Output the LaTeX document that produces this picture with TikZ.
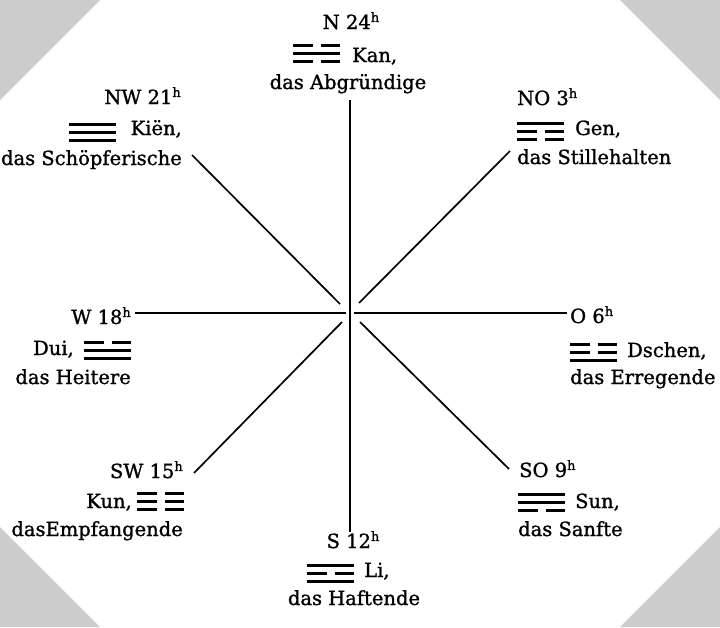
\documentclass[tikz,border=0pt]{standalone}
\usepackage{fontspec}
\setmainfont{DejaVu Serif}
\newfontfamily\lblfont[FakeBold=1.2]{DejaVu Serif}
\newcommand\mytrigline[2]{\ifnum#1=1 \draw[tline] (0,#2)--(47,#2);\else\draw[tline] (0,#2)--(19.5,#2) (27.5,#2)--(47,#2);\fi}
\newcommand\hr[1]{#1\raisebox{0.36em}{\fontsize{13}{14}\selectfont h}}
\tikzset{
  lbl/.style={inner sep=0pt, font=\lblfont\fontsize{19.5}{21}\selectfont},
  ray/.style={line width=1.7pt},
  tline/.style={line width=3pt},
  corner/.style={fill=black!20, draw=none},
  pics/trigram/.style n args={3}{code={\mytrigline{#1}{-8}\mytrigline{#2}{0}\mytrigline{#3}{8}}}
}
\begin{document}
\begin{tikzpicture}[x=1pt,y=-1pt]
\useasboundingbox (0,0) rectangle (720,627);
\fill[white] (0,0) rectangle (720,627);
\fill[corner] (0,0) -- (100,0) -- (0,100) -- cycle;
\fill[corner] (620,0) -- (720,0) -- (720,100) -- cycle;
\fill[corner] (0,527) -- (0,627) -- (100,627) -- cycle;
\fill[corner] (720,527) -- (720,627) -- (620,627) -- cycle;

% N
\node[lbl, anchor=base] (n1) at (351,29) {\hr{N 24}};
\pic (tn) at (293,53) {trigram={0}{1}{0}};
\node[lbl, anchor=base west] (n2) at (352,62) {Kan,};
\node[lbl, anchor=base] (n3) at (348,89) {das Abgründige};
% NW
\node[lbl, anchor=base east] (nw1) at (181,104) {\hr{NW 21}};
\pic (tnw) at (69,132) {trigram={1}{1}{1}};
\node[lbl, anchor=base east] (nw2) at (182,135) {Kiën,};
\node[lbl, anchor=base east] (nw3) at (182,165) {das Schöpferische};
% NO
\node[lbl, anchor=base west] (no1) at (517,105) {\hr{NO 3}};
\pic (tno) at (517,131) {trigram={1}{0}{0}};
\node[lbl, anchor=base west] (no2) at (575,135) {Gen,};
\node[lbl, anchor=base west] (no3) at (517,164) {das Stillehalten};
% W
\node[lbl, anchor=base east] (w1) at (131,324) {\hr{W 18}};
\node[lbl, anchor=base east] (w2) at (74,355) {Dui,};
\pic (tw) at (84,350) {trigram={0}{1}{1}};
\node[lbl, anchor=base east] (w3) at (131,384) {das Heitere};
% O
\node[lbl, anchor=base west] (o1) at (570,323) {\hr{O 6}};
\pic (to) at (570,352) {trigram={0}{0}{1}};
\node[lbl, anchor=base west] (o2) at (627,357) {Dschen,};
\node[lbl, anchor=base west] (o3) at (570,384) {das Erregende};
% SW
\node[lbl, anchor=base east] (sw1) at (183,478) {\hr{SW 15}};
\node[lbl, anchor=base east] (sw2) at (132,508) {Kun,};
\pic (tsw) at (137,501) {trigram={0}{0}{0}};
\node[lbl, anchor=base east] (sw3) at (183,536) {dasEmpfangende};
% SO
\node[lbl, anchor=base west] (so1) at (519,477) {\hr{SO 9}};
\pic (tso) at (518,502) {trigram={1}{1}{0}};
\node[lbl, anchor=base west] (so2) at (575,508) {Sun,};
\node[lbl, anchor=base west] (so3) at (518,536) {das Sanfte};
% S
\node[lbl, anchor=base] (s1) at (353,548) {\hr{S 12}};
\pic (ts) at (307,573) {trigram={1}{0}{1}};
\node[lbl, anchor=base west] (s2) at (364,577) {Li,};
\node[lbl, anchor=base] (s3) at (354,605) {das Haftende};

% rays
\coordinate (vtop) at (350,100);
\coordinate (vbot) at (350,532);
\coordinate (hl1) at (135,313);
\coordinate (hl2) at (346,313);
\coordinate (hr1) at (354,313);
\coordinate (hr2) at (567,313);
\coordinate (nwo) at (192,155);
\coordinate (nwi) at (340,304);
\coordinate (neo) at (510,151);
\coordinate (nei) at (359,303);
\coordinate (swo) at (194,473);
\coordinate (swi) at (342,322);
\coordinate (seo) at (509,469);
\coordinate (sei) at (360,322);
\draw[ray] (vtop) -- (vbot);
\draw[ray] (hl1) -- (hl2);
\draw[ray] (hr1) -- (hr2);
\draw[ray] (nwo) -- (nwi);
\draw[ray] (neo) -- (nei);
\draw[ray] (swo) -- (swi);
\draw[ray] (seo) -- (sei);
\end{tikzpicture}
\end{document}
